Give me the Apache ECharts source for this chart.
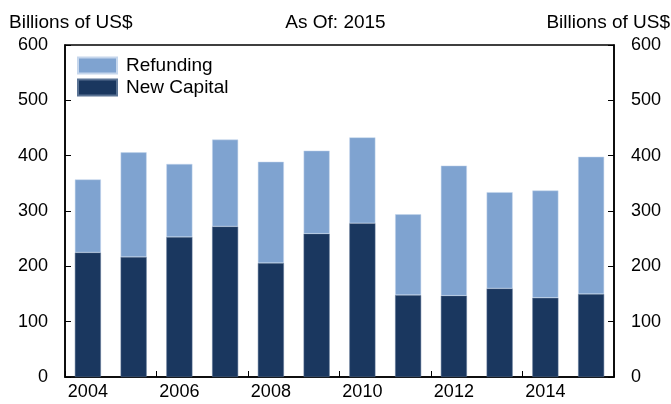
<!DOCTYPE html>
<html>
<head>
<meta charset="utf-8">
<script src="https://cdn.jsdelivr.net/npm/echarts@6/dist/echarts.min.js"></script>
<style>
html,body{margin:0;padding:0;background:#fff;}
#chart{width:671px;height:404px;}
</style>
</head>
<body>
<div id="chart"></div>
<script>
var years = ['2004','2005','2006','2007','2008','2009','2010','2011','2012','2013','2014','2015'];
var newCapital = [225, 217, 253, 272, 206, 259, 278, 148, 147, 160, 143, 150];
var refunding = [132, 189, 132, 157, 183, 150, 155, 146, 235, 174, 194, 248];
var yTicks = [0, 100, 200, 300, 400, 500, 600];

var FONT = '"Liberation Sans", Arial, sans-serif';
var chart = echarts.init(document.getElementById('chart'), null, {renderer: 'canvas'});
var valueAxis = function (pos) {
  return {
    type: 'value',
    position: pos,
    min: yTicks[0],
    max: yTicks[yTicks.length - 1],
    interval: yTicks[1] - yTicks[0],
    axisLine: {show: true, lineStyle: {color: '#000', width: 1.5}},
    axisTick: {show: true, inside: true, length: 6, lineStyle: {color: '#000', width: 1}},
    axisLabel: {color: '#000', fontSize: 18, fontFamily: FONT, margin: 17},
    splitLine: {show: false}
  };
};
chart.setOption({
  animation: false,
  backgroundColor: '#fff',
  title: [
    {text: 'Billions of US$', left: 4, top: 8, textStyle: {fontSize: 19, fontWeight: 'normal', color: '#000', fontFamily: FONT}},
    {text: 'As Of: 2015', left: 'center', top: 8, textStyle: {fontSize: 19, fontWeight: 'normal', color: '#000', fontFamily: FONT}},
    {text: 'Billions of US$', right: -4, top: 8, textStyle: {fontSize: 19, fontWeight: 'normal', color: '#000', fontFamily: FONT}}
  ],
  legend: {
    orient: 'vertical',
    left: 77,
    top: 56,
    padding: 0,
    itemWidth: 39,
    itemHeight: 16,
    itemGap: 3,
    icon: 'rect',
    data: ['Refunding', 'New Capital'],
    textStyle: {fontSize: 19, color: '#000', fontFamily: FONT, padding: [0, 0, 0, 4]}
  },
  grid: {left: 65, right: 57, top: 45, bottom: 27, show: true, borderColor: '#000', borderWidth: 1.5, backgroundColor: 'transparent'},
  xAxis: {
    type: 'category',
    data: years,
    boundaryGap: true,
    axisLine: {show: true, lineStyle: {color: '#000', width: 1.5}},
    axisTick: {show: true, inside: true, length: 6, interval: 1, lineStyle: {color: '#000', width: 1}},
    axisLabel: {color: '#000', fontSize: 18, fontFamily: FONT, interval: 1, margin: 6}
  },
  yAxis: [valueAxis('left'), valueAxis('right')],
  series: [
    {name: 'New Capital', type: 'bar', stack: 'total', data: newCapital, barWidth: 26,
     itemStyle: {color: '#1a375f', borderColor: '#5a7394', borderWidth: 0.5}},
    {name: 'Refunding', type: 'bar', stack: 'total', data: refunding, barWidth: 26,
     itemStyle: {color: '#7fa3d0', borderColor: '#c5d6ec', borderWidth: 0.5}}
  ]
});
</script>
</body>
</html>
